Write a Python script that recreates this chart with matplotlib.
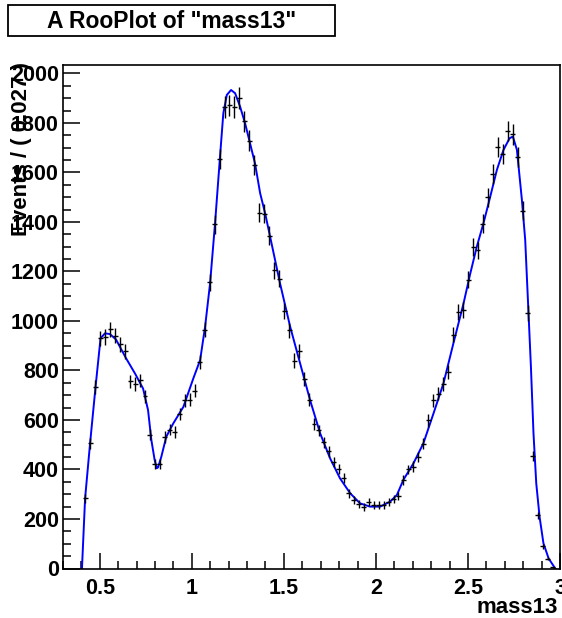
import numpy as np
import matplotlib
matplotlib.use("Agg")
import matplotlib.pyplot as plt
from matplotlib.patches import Rectangle
from matplotlib.ticker import MultipleLocator, FixedLocator

# ---------------- data ----------------
bin_lo, bin_hi, n_bins = 0.3, 3.0, 100

counts = [
    0, 0, 0, 0, 283, 505, 733, 930, 935, 966,
    940, 905, 877, 756, 746, 760, 695, 541, 423, 421,
    532, 561, 551, 625, 679, 681, 719, 835, 965, 1157,
    1390, 1655, 1864, 1871, 1864, 1900, 1807, 1728, 1632, 1438,
    1433, 1345, 1204, 1170, 1042, 962, 840, 878, 766, 681,
    585, 558, 510, 474, 430, 403, 366, 304, 277, 259,
    248, 268, 255, 255, 255, 268, 281, 292, 358, 400,
    412, 450, 504, 598, 679, 706, 746, 793, 945, 1038,
    1045, 1167, 1298, 1285, 1393, 1500, 1595, 1702, 1675, 1767,
    1754, 1662, 1446, 1032, 455, 215, 90, 40, 5, 0,
]

curve_x = [0.403, 0.420, 0.447, 0.477, 0.504, 0.528, 0.555, 0.588, 0.642, 0.691,
           0.735, 0.762, 0.780, 0.798, 0.809, 0.816, 0.834, 0.861, 0.899, 0.954,
           1.008, 1.045, 1.072, 1.099, 1.126, 1.153, 1.171, 1.190, 1.213, 1.235,
           1.262, 1.289, 1.316, 1.343, 1.371, 1.398, 1.425, 1.479, 1.534, 1.588,
           1.642, 1.697, 1.751, 1.805, 1.860, 1.914, 1.968, 2.023, 2.077, 2.114,
           2.149, 2.204, 2.258, 2.313, 2.367, 2.421, 2.476, 2.512, 2.548, 2.584,
           2.621, 2.657, 2.693, 2.726, 2.744, 2.766, 2.793, 2.811, 2.829, 2.842,
           2.856, 2.871, 2.889, 2.910, 2.938, 2.974]
curve_y = [0, 283, 505, 735, 930, 950, 947, 925, 850, 788,
           727, 640, 519, 438, 405, 408, 451, 532, 586, 653,
           768, 842, 977, 1152, 1394, 1664, 1839, 1913, 1933, 1920,
           1866, 1799, 1718, 1637, 1516, 1435, 1341, 1152, 977, 829,
           681, 546, 445, 364, 304, 263, 250, 250, 270, 297,
           358, 425, 506, 627, 748, 910, 1071, 1190, 1300, 1394,
           1502, 1610, 1691, 1738, 1745, 1691, 1489, 1327, 1031, 815,
           546, 344, 209, 102, 41, 0]

x_ticks = [0.5, 1.0, 1.5, 2.0, 2.5, 3.0]
x_ticklabels = ["0.5", "1", "1.5", "2", "2.5", "3"]
y_ticks = [0, 200, 400, 600, 800, 1000, 1200, 1400, 1600, 1800, 2000]
y_ticklabels = [str(v) for v in y_ticks]

title = 'A RooPlot of "mass13"'
xlabel = "mass13"
ylabel = "Events / ( 0.027 )"

# ---------------- figure ----------------
W, H = 562, 618
fig = plt.figure(figsize=(W / 100, H / 100), dpi=100)
fig.patch.set_facecolor("white")

FONT = "Liberation Sans"

ax_l, ax_r, ax_t, ax_b = 63, 560, 65, 568.5
ax = fig.add_axes([ax_l / W, (H - ax_b) / H, (ax_r - ax_l) / W, (ax_b - ax_t) / H])

edges = np.linspace(bin_lo, bin_hi, n_bins + 1)
centers = 0.5 * (edges[:-1] + edges[1:])
half_w = 0.5 * (edges[1] - edges[0])
cnt = np.array(counts, dtype=float)

ax.plot(curve_x, curve_y, color="#0000ff", lw=1.4, zorder=2)
ax.errorbar(centers, cnt, yerr=np.sqrt(cnt), xerr=half_w, fmt="none",
            ecolor="black", elinewidth=1.0, capsize=0, zorder=3)

ax.set_xlim(bin_lo, bin_hi)
ax.set_ylim(0, 2034)

ax.xaxis.set_major_locator(FixedLocator(x_ticks))
ax.set_xticklabels(x_ticklabels)
ax.xaxis.set_minor_locator(MultipleLocator(0.1))
ax.yaxis.set_major_locator(FixedLocator(y_ticks))
ax.set_yticklabels(y_ticklabels)
ax.yaxis.set_minor_locator(MultipleLocator(50))

ax.tick_params(axis="both", which="both", direction="in", top=False, right=False,
               color="black", width=1.1)
ax.tick_params(axis="x", which="major", length=11.5, pad=7)
ax.tick_params(axis="x", which="minor", length=5.8)
ax.tick_params(axis="y", which="major", length=12, pad=3)
ax.tick_params(axis="y", which="minor", length=5.8)

for lab in ax.get_xticklabels() + ax.get_yticklabels():
    lab.set_fontfamily(FONT)
    lab.set_fontweight("bold")
    lab.set_fontsize(15.5)

for sp in ax.spines.values():
    sp.set_linewidth(1.2)
    sp.set_color("black")

# title box
bx0, bx1, by0, by1 = 8, 335, 5, 36
fig.patches.append(Rectangle((bx0 / W, (H - by1) / H), (bx1 - bx0) / W, (by1 - by0) / H,
                             transform=fig.transFigure, facecolor="white",
                             edgecolor="black", linewidth=1.3))
fig.text((bx0 + bx1) / 2 / W, (H - 21) / H, title, ha="center", va="center",
         fontfamily=FONT, fontweight="bold", fontsize=16.5)

# axis titles
fig.text(22 / W, (H - 62) / H, ylabel, rotation=90, ha="center", va="top",
         fontfamily=FONT, fontweight="bold", fontsize=16)
fig.text(558 / W, (H - 613) / H, xlabel, ha="right", va="baseline",
         fontfamily=FONT, fontweight="bold", fontsize=16)

fig.savefig("out.png", dpi=100)
